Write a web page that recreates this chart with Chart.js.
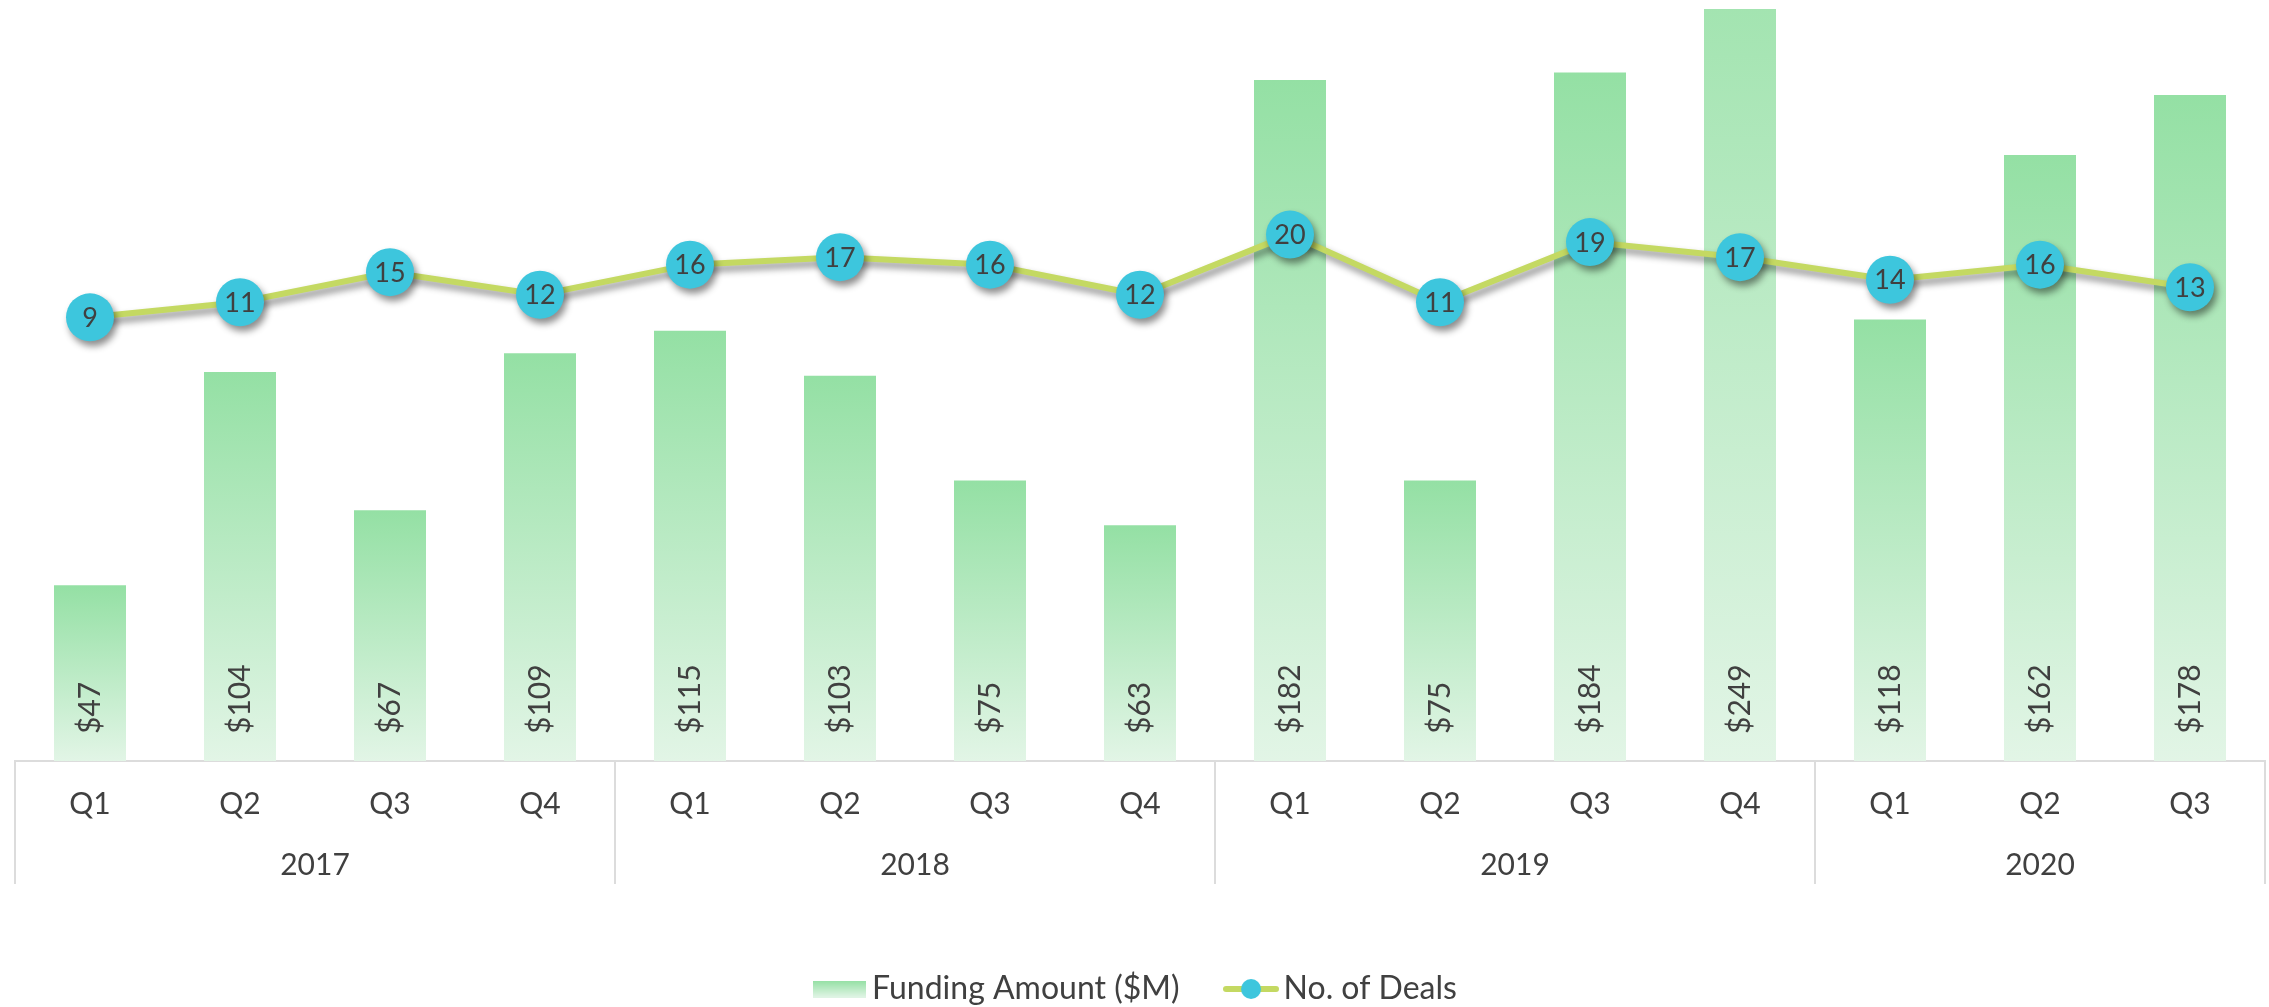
<!DOCTYPE html>
<html>
<head>
<meta charset="utf-8">
<script src="https://cdn.jsdelivr.net/npm/chart.js@4.4.0/dist/chart.umd.min.js"></script>
<style>
  html, body { margin: 0; padding: 0; background: #fff; }
  canvas { display: block; }
</style>
</head>
<body>
<canvas id="fundingChart" width="2269" height="1007"></canvas>
<script>
// Funding vs deals by quarter

const quarters = ['Q1', 'Q2', 'Q3', 'Q4', 'Q1', 'Q2', 'Q3', 'Q4', 'Q1', 'Q2', 'Q3', 'Q4', 'Q1', 'Q2', 'Q3'];
const years = ['2017', '2018', '2019', '2020'];
const quartersPerYear = [4, 4, 4, 3];
const fundingAmount = [47, 104, 67, 109, 115, 103, 75, 63, 182, 75, 184, 249, 118, 162, 178];
const dealCount = [9, 11, 15, 12, 16, 17, 16, 12, 20, 11, 19, 17, 14, 16, 13];

const textColor = '#404040';
const gridColor = '#dcdcdc';
const barTop = '#94e0a4';
const barBottom = '#e2f5e6';
const lineColor = '#c4d962';
const dotColor = '#3dc6dd';

function barGradient(context) {
    const chart = context.chart;
    if (!chart.chartArea || context.type !== 'data') return barTop;
    const y = chart.scales.y;
    const top = y.getPixelForValue(context.raw);
    const base = y.getPixelForValue(0);
    const g = chart.ctx.createLinearGradient(0, top, 0, base);
    g.addColorStop(0, barTop);
    g.addColorStop(1, barBottom);
    return g;
}

// legend swatches
const barSwatch = document.createElement('canvas');
barSwatch.width = 53; barSwatch.height = 17;
(function () {
    const c = barSwatch.getContext('2d');
    const g = c.createLinearGradient(0, 0, 0, 17);
    g.addColorStop(0, barTop);
    g.addColorStop(1, barBottom);
    c.fillStyle = g;
    c.fillRect(0, 0, 53, 17);
})();

const lineSwatch = document.createElement('canvas');
lineSwatch.width = 56; lineSwatch.height = 22;
(function () {
    const c = lineSwatch.getContext('2d');
    c.strokeStyle = lineColor;
    c.lineWidth = 6;
    c.lineCap = 'round';
    c.beginPath(); c.moveTo(3, 11); c.lineTo(53, 11); c.stroke();
    c.fillStyle = dotColor;
    c.beginPath(); c.arc(28, 11, 10, 0, Math.PI * 2); c.fill();
})();

// shadow under the deals line
const lineShadow = {
    id: 'lineShadow',
    beforeDatasetDraw(chart, args) {
        if (args.index !== 1) return;
        const ctx = chart.ctx;
        ctx.save();
        ctx.shadowColor = 'rgba(0, 0, 0, 0.45)';
        ctx.shadowBlur = 7;
        ctx.shadowOffsetX = 3;
        ctx.shadowOffsetY = 5;
    },
    afterDatasetDraw(chart, args) {
        if (args.index !== 1) return;
        chart.ctx.restore();
    }
};

// value labels on bars and dots
const valueLabels = {
    id: 'valueLabels',
    afterDatasetsDraw(chart) {
        const ctx = chart.ctx;
        const base = chart.scales.y.getPixelForValue(0);
        ctx.save();
        ctx.fillStyle = textColor;
        ctx.font = '30px Lato';
        chart.getDatasetMeta(0).data.forEach((bar, i) => {
            ctx.save();
            ctx.translate(bar.x, base - 27);
            ctx.rotate(-Math.PI / 2);
            ctx.textAlign = 'left';
            ctx.textBaseline = 'middle';
            ctx.fillText('$' + fundingAmount[i], 0, 0);
            ctx.restore();
        });
        ctx.font = '27px Lato';
        ctx.textAlign = 'center';
        ctx.textBaseline = 'middle';
        chart.getDatasetMeta(1).data.forEach((pt, i) => {
            ctx.fillText(String(dealCount[i]), pt.x, pt.y + 1);
        });
        ctx.restore();
    }
};

// year row + separators under the quarter labels
const yearGroups = {
    id: 'yearGroups',
    afterDraw(chart) {
        const ctx = chart.ctx;
        const x = chart.scales.x;
        const top = chart.chartArea.bottom;
        const half = (x.getPixelForValue(1) - x.getPixelForValue(0)) / 2;
        ctx.save();
        ctx.strokeStyle = gridColor;
        ctx.lineWidth = 2;
        ctx.fillStyle = textColor;
        ctx.font = '30px Lato';
        ctx.textAlign = 'center';
        ctx.textBaseline = 'middle';
        let start = 0;
        years.forEach((yr, k) => {
            const end = start + quartersPerYear[k] - 1;
            const left = x.getPixelForValue(start) - half;
            const right = x.getPixelForValue(end) + half;
            ctx.beginPath();
            ctx.moveTo(left, top); ctx.lineTo(left, top + 123);
            if (k === years.length - 1) { ctx.moveTo(right, top); ctx.lineTo(right, top + 123); }
            ctx.stroke();
            ctx.fillText(yr, (left + right) / 2, top + 104);
            start = end + 1;
        });
        ctx.restore();
    }
};

new Chart(document.getElementById('fundingChart'), {
    type: 'bar',
    data: {
        labels: quarters,
        datasets: [{
            label: 'Funding Amount ($M)',
            data: fundingAmount,
            backgroundColor: barGradient,
            categoryPercentage: 1,
            barPercentage: 0.48,
            yAxisID: 'y',
            order: 1
        }, {
            type: 'line',
            label: 'No. of Deals',
            data: dealCount,
            borderColor: lineColor,
            borderWidth: 6,
            pointRadius: 24,
            pointBackgroundColor: dotColor,
            pointBorderWidth: 0,
            tension: 0,
            yAxisID: 'y2',
            order: 0
        }]
    },
    options: {
        responsive: false,
        animation: false,
        devicePixelRatio: 1,
        layout: { autoPadding: false, padding: { top: 9, left: 15, right: 4, bottom: -8 } },
        plugins: {
            tooltip: { enabled: false },
            legend: {
                position: 'bottom',
                labels: {
                    usePointStyle: true,
                    pointStyleWidth: 33,
                    padding: 55,
                    color: textColor,
                    font: { family: 'Lato', size: 32 },
                    generateLabels(chart) {
                        return chart.data.datasets.map((ds, i) => ({
                            text: ds.label,
                            pointStyle: i === 0 ? barSwatch : lineSwatch,
                            fillStyle: 'transparent',
                            strokeStyle: 'transparent',
                            lineWidth: 0,
                            fontColor: textColor,
                            hidden: false,
                            datasetIndex: i
                        }));
                    }
                }
            }
        },
        scales: {
            x: {
                grid: { display: false },
                border: { display: true, color: gridColor, width: 2 },
                ticks: {
                    color: textColor,
                    font: { family: 'Lato', size: 30 },
                    padding: 17,
                    maxRotation: 0,
                    autoSkip: false
                },
                afterFit(scale) {
                    scale.height = 157;
                    scale.paddingLeft = 0;
                    scale.paddingRight = 0;
                }
            },
            y: { display: false, min: 0, max: 201 },
            y2: { display: false, min: -50, max: 50 }
        }
    },
    plugins: [lineShadow, valueLabels, yearGroups]
});
</script>
</body>
</html>
